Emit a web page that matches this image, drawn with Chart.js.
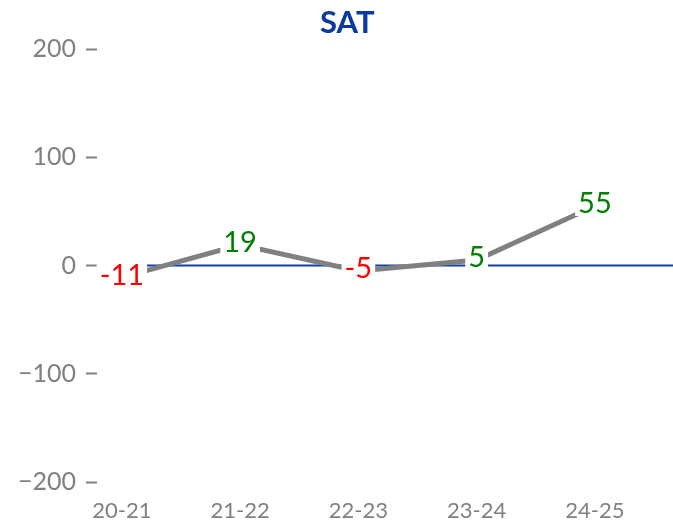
<!DOCTYPE html>
<html>
<head>
<meta charset="utf-8">
<script src="https://cdn.jsdelivr.net/npm/chart.js@4"></script>
<style>
  html, body { margin: 0; padding: 0; background: #fff; }
  #wrap { width: 673px; height: 523px; }
</style>
</head>
<body>
<div id="wrap"><canvas id="myChart"></canvas></div>
<script>
const seasons = ['20-21', '21-22', '22-23', '23-24', '24-25'];
const satChange = [-11, 19, -5, 5, 55];
const yTicks = [-200, -100, 0, 100, 200];

const FONT = 'Lato, "Open Sans", sans-serif';

// blue line at zero across the whole plot
const zeroLine = {
  id: 'zeroLine',
  beforeDatasetsDraw(chart) {
    const { ctx, chartArea, scales } = chart;
    const y = scales.y.getPixelForValue(0);
    ctx.save();
    ctx.strokeStyle = '#0d3fa6';
    ctx.lineWidth = 2;
    ctx.beginPath();
    ctx.moveTo(chartArea.left, y);
    ctx.lineTo(chartArea.right, y);
    ctx.stroke();
    ctx.restore();
  }
};

// value labels on a white box, red for negative, green otherwise
const valueLabels = {
  id: 'valueLabels',
  afterDatasetsDraw(chart) {
    const { ctx } = chart;
    const meta = chart.getDatasetMeta(0);
    ctx.save();
    ctx.font = '29px ' + FONT;
    ctx.textAlign = 'center';
    ctx.textBaseline = 'middle';
    meta.data.forEach((pt, i) => {
      const v = satChange[i];
      const txt = String(v);
      const w = ctx.measureText(txt).width + 6;
      const h = 26;
      const cy = pt.y - 3;
      ctx.fillStyle = '#ffffff';
      ctx.fillRect(pt.x - w / 2, cy - h / 2, w, h);
      ctx.fillStyle = v < 0 ? '#ff0000' : '#008000';
      ctx.fillText(txt, pt.x, cy + 1);
    });
    ctx.restore();
  }
};

const titleText = {
  id: 'titleText',
  afterDraw(chart) {
    const { ctx } = chart;
    ctx.save();
    ctx.font = 'bold 31px ' + FONT;
    ctx.fillStyle = '#0a3a9e';
    ctx.textAlign = 'center';
    ctx.textBaseline = 'middle';
    ctx.fillText('SAT', chart.width * 0.516, 23);
    ctx.restore();
  }
};

const ctx = document.getElementById('myChart');
new Chart(ctx, {
  type: 'line',
  data: {
    datasets: [{
      label: 'SAT',
      data: satChange.map((v, i) => ({ x: i, y: v })),
      borderColor: '#808080',
      borderWidth: 5,
      pointRadius: 0,
      tension: 0,
      fill: false
    }]
  },
  options: {
    responsive: true,
    maintainAspectRatio: false,
    animation: false,
    layout: { padding: { top: 49, left: 0, right: 0, bottom: 0 } },
    plugins: {
      legend: { display: false },
      tooltip: { enabled: false }
    },
    scales: {
      x: {
        type: 'linear',
        min: -0.21,
        max: 4.66,
        afterBuildTicks: (scale) => {
          scale.ticks = seasons.map((s, i) => ({ value: i }));
        },
        afterFit: (scale) => { scale.height = 41; },
        grid: { display: false },
        border: { display: false },
        ticks: {
          padding: 8,
          color: '#808080',
          font: { family: FONT, size: 22 },
          callback: (v) => seasons[v]
        }
      },
      y: {
        min: -200,
        max: 200,
        afterBuildTicks: (scale) => {
          scale.ticks = yTicks.map(v => ({ value: v }));
        },
        afterFit: (scale) => { scale.width = 97; },
        grid: {
          drawOnChartArea: false,
          drawTicks: true,
          tickLength: 11,
          tickWidth: 2,
          tickColor: '#808080'
        },
        border: { display: false },
        ticks: {
          padding: 10,
          color: '#808080',
          font: { family: FONT, size: 25 },
          callback: (v) => (v < 0 ? '\u2212' + Math.abs(v) : String(v))
        }
      }
    }
  },
  plugins: [zeroLine, valueLabels, titleText]
});
</script>
</body>
</html>
